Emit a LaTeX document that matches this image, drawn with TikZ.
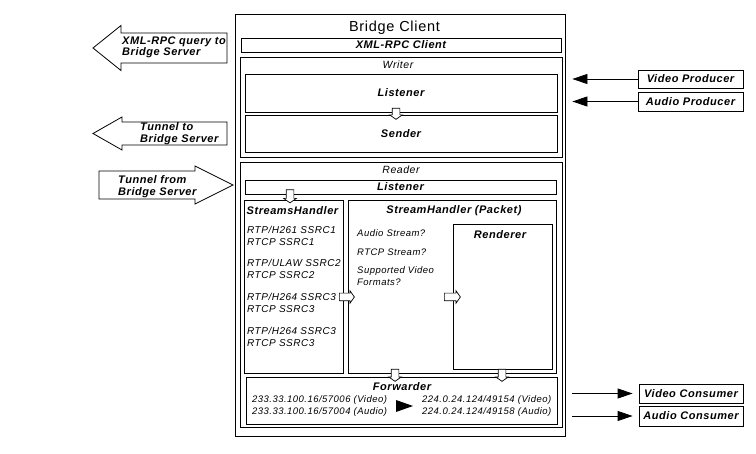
\documentclass[tikz,border=0pt]{standalone}
\usepackage{fontspec}
\setmainfont{Liberation Sans}[LetterSpace=5.0]
\usepackage{tikz}
\usetikzlibrary{positioning, arrows.meta, shapes.arrows}

\begin{document}
\begin{tikzpicture}[x=1pt, y=-1pt,
    box/.style={draw, line width=0.8pt, inner sep=0pt},
    hdr/.style={font=\fontsize{11}{13}\selectfont\bfseries\itshape, inner sep=0pt},
    sub/.style={font=\fontsize{10.5}{12}\selectfont\itshape, inner sep=0pt},
    txt/.style={font=\fontsize{10}{12}\selectfont\itshape, align=left, inner sep=0pt, anchor=west},
    small/.style={font=\fontsize{9.5}{12}\selectfont\itshape, align=left, inner sep=0pt, anchor=west},
    bigtxt/.style={font=\fontsize{11}{11.5}\selectfont\bfseries\itshape, align=left, inner sep=0pt, anchor=west},
    flow/.style={single arrow, draw, fill=white, line width=0.7pt, inner xsep=0pt, inner ysep=3.5pt,
        single arrow head extend=2.5pt, single arrow tip angle=110, minimum height=#1},
    downflow/.style={flow=#1, inner xsep=3.5pt, inner ysep=0pt, shape border rotate=270},
    bigarrow/.style={draw, line width=0.8pt, fill=white},
    link/.style={line width=0.8pt, -{Triangle[length=15pt, width=10pt]}}
]
\useasboundingbox (0,0) rectangle (756,454);

% tunnels and query
\draw[bigarrow] (93,48) -- (121,25.5) -- (121,33) -- (227,33) -- (227,63) -- (121,63) -- (121,70.5) -- cycle;
\node[bigtxt] (querylbl) at (122,47.5) {XML-RPC query to\\Bridge Server};
\draw[bigarrow] (93,133.5) -- (122,117) -- (122,122) -- (227,122) -- (227,145) -- (122,145) -- (122,150) -- cycle;
\node[bigtxt] (tunneltolbl) at (140,133.5) {Tunnel to\\Bridge Server};
\draw[bigarrow] (99,171) -- (195,171) -- (195,166) -- (233,185) -- (195,204) -- (195,199) -- (99,199) -- cycle;
\node[bigtxt] (tunnelfromlbl) at (118,186.5) {Tunnel from\\Bridge Server};

% bridge client
\node[box, minimum width=330, minimum height=422] (client) at (400,225) {};
\node[font=\fontsize{14.5}{16}\selectfont, inner sep=0pt] (title) at (394.5,27.5) {Bridge Client};
\node[box, hdr, minimum width=320, minimum height=14] (xmlrpc) at (401,45) {XML-RPC Client};

% writer
\node[box, minimum width=322, minimum height=100] (writer) at (401,107) {};
\node[sub] (writerlbl) at (398,65) {Writer};
\node[box, hdr, minimum width=312, minimum height=38] (wlisten) at (401,93) {Listener};
\node[box, hdr, minimum width=312, minimum height=37] (wsend) at (401,133.5) {Sender};
\node[downflow=11pt] (wl2ws) at (396,112.5) {};

% reader
\node[box, minimum width=322, minimum height=265] (reader) at (401,294.5) {};
\node[sub] (readerlbl) at (401,170) {Reader};
\node[box, hdr, minimum width=311, minimum height=14] (rlisten) at (400.5,187) {Listener};

\node[box, minimum width=99, minimum height=173] (shandlers) at (293.5,286.5) {};
\node[hdr] (shandlerslbl) at (292.5,211) {StreamsHandler};
\node[txt] (ssrc1) at (247,236) {RTP/H261 SSRC1\\RTCP SSRC1};
\node[txt] (ssrc2) at (247,269) {RTP/ULAW SSRC2\\RTCP SSRC2};
\node[txt] (ssrc3) at (247,303) {RTP/H264 SSRC3\\RTCP SSRC3};
\node[txt] (ssrc4) at (247,336.5) {RTP/H264 SSRC3\\RTCP SSRC3};

\node[box, minimum width=208, minimum height=173] (packet) at (452,286.5) {};
\node[hdr] (packetlbl) at (454,211) {StreamHandler (Packet)};
\node[small] (qaudio) at (357,233) {Audio Stream?};
\node[small] (qrtcp) at (357,252) {RTCP Stream?};
\node[small] (qvideo) at (357,276.5) {Supported Video\\Formats?};

\node[box, minimum width=99, minimum height=145] (renderer) at (502.5,296.5) {};
\node[hdr] (rendererlbl) at (500,235) {Renderer};

% forwarder
\node[box, minimum width=311, minimum height=47] (forwarder) at (401.5,400.5) {};
\node[hdr] (forwarderlbl) at (402,387) {Forwarder};
\node[small] (fwin) at (252,406) {233.33.100.16/57006 (Video)\\233.33.100.16/57004 (Audio)};
\node[small] (fwout) at (422,406) {224.0.24.124/49154 (Video)\\224.0.24.124/49158 (Audio)};
\fill (396,400) -- (413,406) -- (396,412) -- cycle;

% flows inside
\node[downflow=13pt] (rl2sh) at (290,195) {};
\node[flow=15pt] (sh2pk) at (345.5,297) {};
\node[flow=16pt] (pk2rd) at (451,297) {};
\node[downflow=12pt] (pk2fw) at (395,374) {};
\node[downflow=12pt] (rd2fw) at (502,374) {};

% producers and consumers
\node[box, hdr, minimum width=105, minimum height=18] (vprod) at (690.5,79) {Video Producer};
\node[box, hdr, minimum width=105, minimum height=19] (aprod) at (690.5,101.5) {Audio Producer};
\node[box, hdr, minimum width=104, minimum height=19] (vcons) at (691,393.5) {Video Consumer};
\node[box, hdr, minimum width=104, minimum height=20] (acons) at (691,416) {Audio Consumer};

\draw[link, shorten >=7pt] (vprod.west) -- (vprod.west -| client.east);
\draw[link, shorten >=7pt] (aprod.west) -- (aprod.west -| client.east);
\draw[link, shorten <=7pt, shorten >=6pt] (vcons.west -| client.east) -- (vcons.west);
\draw[link, shorten <=7pt, shorten >=6pt] (acons.west -| client.east) -- (acons.west);
\end{tikzpicture}
\end{document}
